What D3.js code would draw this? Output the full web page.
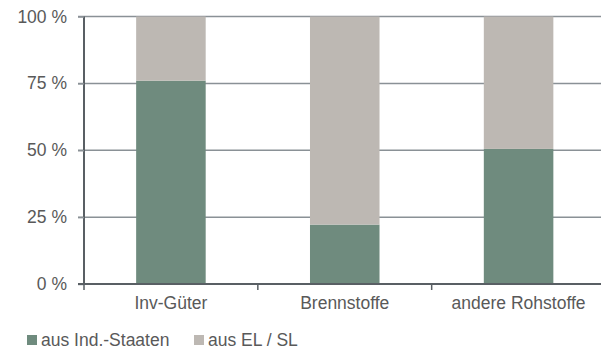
<!DOCTYPE html>
<html lang="de">
  <head>
    <meta charset="UTF-8" />
    <title>Importe nach Herkunft</title>
    <script src="https://d3js.org/d3.v7.min.js"></script>
    <style>
      body { margin: 0; background: #fff; }
      text { font-family: "Liberation Sans", Arial, sans-serif; fill: #595959; }
    </style>
  </head>
  <body>
    <svg id="chart" width="601" height="351"></svg>
    <script>
      const categories = ["Inv-Güter", "Brennstoffe", "andere Rohstoffe"];
      const indStaaten = [76, 22.2, 50.5];
      const elSl = [24, 77.8, 49.5];
      const seriesNames = ["aus Ind.-Staaten", "aus EL / SL"];
      const yTicks = [0, 25, 50, 75, 100];

      const svg = d3.select("#chart");
      const plotLeft = 84, plotRight = 605.5, plotTop = 16.5, plotBottom = 284;

      const x = d3.scaleBand()
        .domain(categories)
        .range([plotLeft, plotRight])
        .paddingInner(0.6)
        .paddingOuter(0.3);

      const y = d3.scaleLinear().domain([0, 100]).range([plotBottom, plotTop]);

      const color = d3.scaleOrdinal().domain(seriesNames).range(["#6f8b7e", "#bdb8b3"]);

      // gridlines
      svg.append("g")
        .selectAll("line")
        .data(yTicks.filter((d) => d > 0))
        .enter()
        .append("line")
        .attr("x1", plotLeft - 6)
        .attr("x2", 601)
        .attr("y1", (d) => y(d))
        .attr("y2", (d) => y(d))
        .attr("stroke", "#8a9196")
        .attr("stroke-width", 1.5);

      // stacked bars
      const rows = categories.map((c, i) => ({ cat: c, [seriesNames[0]]: indStaaten[i], [seriesNames[1]]: elSl[i] }));
      const stacked = d3.stack().keys(seriesNames)(rows);

      svg.append("g")
        .selectAll("g")
        .data(stacked)
        .enter()
        .append("g")
        .attr("fill", (d) => color(d.key))
        .selectAll("rect")
        .data((d) => d)
        .enter()
        .append("rect")
        .attr("x", (d) => x(d.data.cat))
        .attr("width", x.bandwidth())
        .attr("y", (d) => y(d[1]))
        .attr("height", (d) => y(d[0]) - y(d[1]));

      // y axis
      const yAxis = svg.append("g")
        .attr("transform", `translate(${plotLeft},0)`)
        .call(d3.axisLeft(y).tickValues(yTicks).tickSize(6).tickPadding(11).tickFormat((d) => d + " %"));
      yAxis.select(".domain").attr("stroke", "#595f64").attr("stroke-width", 2).attr("d", `M0,${plotTop}V${plotBottom}`);
      yAxis.selectAll(".tick line").attr("stroke", "#8a9196").attr("stroke-width", 1.5);
      yAxis.selectAll(".tick text").style("font-size", "17.5px").attr("fill", "#595959");

      // x axis
      const step = x.step();
      const boundaries = categories.map((c, i) => plotLeft + i * step).concat([plotRight]);
      const xAxis = svg.append("g");
      xAxis.append("line")
        .attr("x1", plotLeft - 6).attr("x2", 601)
        .attr("y1", plotBottom).attr("y2", plotBottom)
        .attr("stroke", "#595f64").attr("stroke-width", 2);
      xAxis.selectAll(".bt")
        .data(boundaries)
        .enter()
        .append("line")
        .attr("x1", (d) => d).attr("x2", (d) => d)
        .attr("y1", plotBottom).attr("y2", plotBottom + 6)
        .attr("stroke", "#595f64").attr("stroke-width", 1.5);
      xAxis.selectAll("text")
        .data(categories)
        .enter()
        .append("text")
        .attr("x", (d) => x(d) + x.bandwidth() / 2)
        .attr("y", 309)
        .attr("text-anchor", "middle")
        .style("font-size", "17.5px")
        .text((d) => d);

      // legend
      const legendX = [27, 194];
      const legend = svg.append("g")
        .selectAll("g")
        .data(seriesNames)
        .enter()
        .append("g")
        .attr("transform", (d, i) => `translate(${legendX[i]},335)`);
      legend.append("rect")
        .attr("width", 10).attr("height", 10)
        .attr("fill", (d) => color(d));
      legend.append("text")
        .attr("x", 14).attr("y", 10.5)
        .style("font-size", "17.5px")
        .text((d) => d);
    </script>
  </body>
</html>
